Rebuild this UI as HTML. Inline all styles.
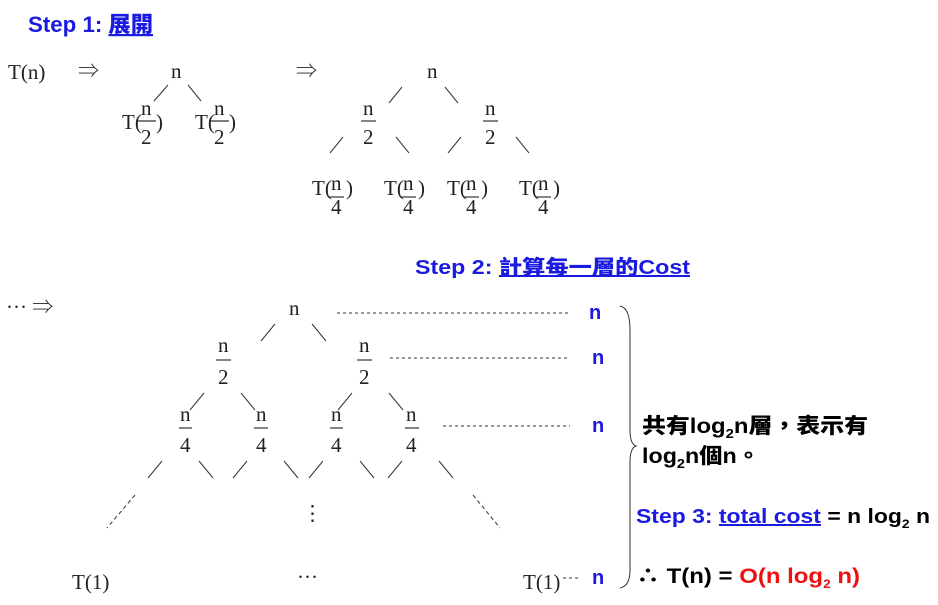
<!DOCTYPE html>
<html><head><meta charset="utf-8"><style>
html,body{margin:0;padding:0;background:#fff;}
svg{display:block}
.s{font-family:"Liberation Serif","Noto Serif CJK SC",serif;font-size:21px;fill:#222}
.b{font-family:"Liberation Sans","Noto Sans CJK TC",sans-serif;font-weight:900;}
.blue{fill:#1a1ae0}
.k{fill:#000}
</style></head><body>
<svg width="938" height="605" viewBox="0 0 938 605" xmlns="http://www.w3.org/2000/svg">
<g stroke="#333" stroke-width="1" fill="none">
<line x1="168" y1="85" x2="154" y2="101"/><line x1="188" y1="85" x2="201" y2="101"/>
<line x1="402" y1="87" x2="389" y2="103"/><line x1="445" y1="87" x2="458" y2="103"/>
<line x1="343" y1="137" x2="330" y2="153"/><line x1="396" y1="137" x2="409" y2="153"/>
<line x1="461" y1="137" x2="448" y2="153"/><line x1="516" y1="137" x2="529" y2="153"/>
<line x1="275" y1="324" x2="261" y2="341"/><line x1="312" y1="324" x2="326" y2="341"/>
<line x1="204" y1="393" x2="190" y2="410"/><line x1="241" y1="393" x2="255" y2="410"/>
<line x1="352" y1="393" x2="338" y2="410"/><line x1="389" y1="393" x2="403" y2="410"/>
<line x1="162" y1="461" x2="148" y2="478"/><line x1="199" y1="461" x2="213" y2="478"/>
<line x1="247" y1="461" x2="233" y2="478"/><line x1="284" y1="461" x2="298" y2="478"/>
<line x1="323" y1="461" x2="309" y2="478"/><line x1="360" y1="461" x2="374" y2="478"/>
<line x1="402" y1="461" x2="388" y2="478"/><line x1="439" y1="461" x2="453" y2="478"/>
<line x1="135" y1="495" x2="107" y2="528" stroke-dasharray="4,3"/>
<line x1="473" y1="495" x2="500" y2="528" stroke-dasharray="4,3"/>
<line x1="337" y1="313" x2="570" y2="313" stroke-dasharray="3,3"/>
<line x1="390" y1="358" x2="570" y2="358" stroke-dasharray="3,3"/>
<line x1="443" y1="426" x2="570" y2="426" stroke-dasharray="3,3"/>
<line x1="563" y1="578" x2="580" y2="578" stroke-dasharray="3,3"/>
<path d="M620,306 Q630,308 630,330 L630,430 Q630,444 636,446 Q630,448 630,462 L630,570 Q630,586 620,588"/>
</g>
<g stroke="#333" stroke-width="1.2">
<line x1="138" y1="121" x2="156" y2="121"/><line x1="211" y1="121" x2="229" y2="121"/>
<line x1="361" y1="121" x2="376" y2="121"/><line x1="483" y1="121" x2="498" y2="121"/>
<line x1="328" y1="197" x2="344" y2="197"/><line x1="400" y1="197" x2="416" y2="197"/>
<line x1="463" y1="197" x2="479" y2="197"/><line x1="535" y1="197" x2="551" y2="197"/>
<line x1="216" y1="360" x2="231" y2="360"/><line x1="357" y1="360" x2="372" y2="360"/>
<line x1="179" y1="428" x2="192" y2="428"/><line x1="254" y1="428" x2="268" y2="428"/>
<line x1="330" y1="428" x2="343" y2="428"/><line x1="405" y1="428" x2="419" y2="428"/>
</g>
<text x="28" y="32" class="b blue" font-size="22" textLength="125" lengthAdjust="spacingAndGlyphs">Step 1: <tspan text-decoration="underline">展開</tspan></text>
<g class="s">
<text x="8" y="79">T(n)</text><text x="78" y="78">⇒</text><text x="296" y="78">⇒</text>
<text x="171" y="78">n</text>
<text x="122" y="129">T(</text><text x="141" y="115">n</text><text x="141" y="144">2</text><text x="156" y="129">)</text>
<text x="195" y="129">T(</text><text x="214" y="115">n</text><text x="214" y="144">2</text><text x="229" y="129">)</text>
<text x="427" y="78">n</text>
<text x="363" y="115">n</text><text x="363" y="144">2</text>
<text x="485" y="115">n</text><text x="485" y="144">2</text>
<text x="312" y="195">T(</text><text x="331" y="190">n</text><text x="331" y="214">4</text><text x="346" y="195">)</text>
<text x="384" y="195">T(</text><text x="403" y="190">n</text><text x="403" y="214">4</text><text x="418" y="195">)</text>
<text x="447" y="195">T(</text><text x="466" y="190">n</text><text x="466" y="214">4</text><text x="481" y="195">)</text>
<text x="519" y="195">T(</text><text x="538" y="190">n</text><text x="538" y="214">4</text><text x="553" y="195">)</text>
</g>
<text x="415" y="274" class="b blue" font-size="20" textLength="275" lengthAdjust="spacingAndGlyphs">Step 2: <tspan text-decoration="underline">計算每一層的Cost</tspan></text>
<g class="s">
<text x="6" y="314">··· ⇒</text>
<text x="289" y="315">n</text>
<text x="218" y="352">n</text><text x="218" y="384">2</text>
<text x="359" y="352">n</text><text x="359" y="384">2</text>
<text x="180" y="421">n</text><text x="180" y="452">4</text>
<text x="256" y="421">n</text><text x="256" y="452">4</text>
<text x="331" y="421">n</text><text x="331" y="452">4</text>
<text x="406" y="421">n</text><text x="406" y="452">4</text>
<text x="302" y="520">⋮</text>
<text x="72" y="589">T(1)</text><text x="297" y="584">···</text><text x="523" y="589">T(1)</text>
</g>
<g class="b blue" font-size="20">
<text x="589" y="319">n</text><text x="592" y="364">n</text><text x="592" y="432">n</text><text x="592" y="584">n</text>
</g>
<g class="b k" font-size="21">
<text x="642" y="433" textLength="226" lengthAdjust="spacingAndGlyphs">共有log<tspan font-size="13" dy="5">2</tspan><tspan dy="-5">n層，表示有</tspan></text>
<text x="642" y="463" textLength="118" lengthAdjust="spacingAndGlyphs">log<tspan font-size="13" dy="5">2</tspan><tspan dy="-5">n個n。</tspan></text>
<text x="636" y="523" font-size="20" textLength="294" lengthAdjust="spacingAndGlyphs"><tspan class="blue">Step 3: </tspan><tspan class="blue" text-decoration="underline">total cost</tspan> = n log<tspan font-size="12" dy="5">2</tspan><tspan dy="-5"> n</tspan></text>
<text x="636" y="583" font-size="21" textLength="224" lengthAdjust="spacingAndGlyphs">∴ T(n) = <tspan fill="#ee1111">O(n log<tspan font-size="12" dy="5">2</tspan><tspan dy="-5"> n)</tspan></tspan></text>
</g>
</svg>
</body></html>
